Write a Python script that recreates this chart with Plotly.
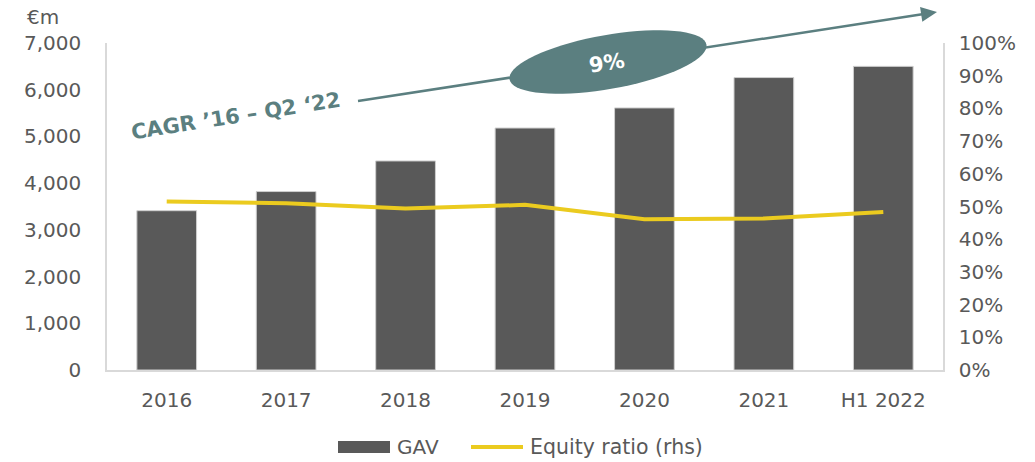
import math
import plotly.graph_objects as go

categories = ["2016", "2017", "2018", "2019", "2020", "2021", "H1 2022"]
gav = [3410, 3820, 4475, 5180, 5610, 6260, 6500]
equity_ratio = [0.515, 0.510, 0.494, 0.505, 0.461, 0.463, 0.483]
left_ticks = [0, 1000, 2000, 3000, 4000, 5000, 6000, 7000]
right_ticks = [i / 10 for i in range(11)]
series_names = ["GAV", "Equity ratio (rhs)"]

W, H = 1035, 462
L, R, T, B = 107, 943, 43, 370
TEAL = "#5B7F80"
GREY = "#595959"
BAR = "#595959"
YELLOW = "#EBCB1F"
FONT = "DejaVu Sans"


def px(x):
    return (x - L) / (R - L)


def py(y):
    return (B - y) / (B - T)


fig = go.Figure()
fig.add_trace(go.Bar(
    x=categories, y=gav, name=series_names[0], width=0.5,
    marker=dict(color=BAR, line=dict(color="#cfcfcf", width=1)),
    showlegend=False,
))
fig.add_trace(go.Scatter(
    x=categories, y=equity_ratio, name=series_names[1], yaxis="y2",
    mode="lines", line=dict(color=YELLOW, width=4), showlegend=False,
))

shapes = []
# arrow line
x0, y0 = 358, 101
tx, ty = 937, 12
dx, dy = tx - x0, ty - y0
n = math.hypot(dx, dy)
ux, uy = dx / n, dy / n
hl, hw = 16, 7.5
bx, by = tx - ux * hl, ty - uy * hl
shapes.append(dict(type="line", xref="paper", yref="paper",
                   x0=px(x0), y0=py(y0), x1=px(bx + ux), y1=py(by + uy),
                   line=dict(color=TEAL, width=2.5), layer="above"))
# arrowhead
p1 = (bx - uy * hw, by + ux * hw)
p2 = (bx + uy * hw, by - ux * hw)
shapes.append(dict(type="path", xref="paper", yref="paper",
                   path=f"M{px(tx)},{py(ty)} L{px(p1[0])},{py(p1[1])} L{px(p2[0])},{py(p2[1])} Z",
                   fillcolor=TEAL, line=dict(color=TEAL, width=0), layer="above"))
# rotated ellipse
cx, cy, a, b, phi = 608, 62, 100, 27, math.radians(-10)
pts = []
for i in range(73):
    t = 2 * math.pi * i / 72
    ex = cx + a * math.cos(t) * math.cos(phi) - b * math.sin(t) * math.sin(phi)
    ey = cy + a * math.cos(t) * math.sin(phi) + b * math.sin(t) * math.cos(phi)
    pts.append(f"{px(ex)},{py(ey)}")
shapes.append(dict(type="path", xref="paper", yref="paper",
                   path="M" + " L".join(pts) + " Z",
                   fillcolor=TEAL, line=dict(color=TEAL, width=0), layer="above"))

# manual legend
LY = 447
shapes.append(dict(type="rect", xref="paper", yref="paper",
                   x0=px(338), x1=px(390), y0=py(LY - 6), y1=py(LY + 6),
                   fillcolor=BAR, line=dict(width=0), layer="above"))
shapes.append(dict(type="line", xref="paper", yref="paper",
                   x0=px(471), x1=px(523), y0=py(LY), y1=py(LY),
                   line=dict(color=YELLOW, width=4), layer="above"))


def ann(text, x, y, size=20, color=GREY, bold=False, angle=0, xanchor="center"):
    f = dict(family=FONT, size=size, color=color)
    if bold:
        f["weight"] = "bold"
    return dict(text=text, xref="paper", yref="paper", x=px(x), y=py(y),
                showarrow=False, textangle=angle, xanchor=xanchor, yanchor="middle",
                font=f)


annotations = [
    ann("9%", 607, 63, size=21, color="white", bold=True, angle=-9),
    ann("CAGR ’16 – Q2 ‘22", 236, 116, size=21, color=TEAL, bold=True, angle=-9),
    ann("€m", 43, 17),
    ann(series_names[0], 395, LY, xanchor="left"),
    ann(series_names[1], 528, LY, size=20.5, xanchor="left"),
]

fig.update_layout(
    width=W, height=H,
    margin=dict(l=L, r=W - R, t=T, b=H - B, autoexpand=False),
    paper_bgcolor="white", plot_bgcolor="white",
    font=dict(family=FONT, size=20, color=GREY),
    bargap=0.5,
    showlegend=False,
    xaxis=dict(showgrid=False, showline=True, linecolor="#d9d9d9", linewidth=1.5,
               ticks="outside", ticklen=11, tickcolor="rgba(0,0,0,0)",
               tickfont=dict(size=20, color=GREY)),
    yaxis=dict(range=[0, 7000], tickvals=left_ticks, tickformat=",d",
               showgrid=False, showline=True, linecolor="#d9d9d9", linewidth=1.5,
               ticks="outside", ticklen=20, tickcolor="rgba(0,0,0,0)",
               tickfont=dict(size=20, color=GREY), zeroline=False),
    yaxis2=dict(range=[0, 1], tickvals=right_ticks, tickformat=".0%",
                overlaying="y", side="right", showgrid=False, showline=True,
                linecolor="#d9d9d9", linewidth=1.5, ticks="outside", ticklen=10,
                tickcolor="rgba(0,0,0,0)", tickfont=dict(size=20, color=GREY),
                zeroline=False),
    shapes=shapes,
    annotations=annotations,
)

fig.write_html("out.html", config={"displayModeBar": False},
               post_script="document.body.style.margin='0';document.body.style.overflow='hidden';")
